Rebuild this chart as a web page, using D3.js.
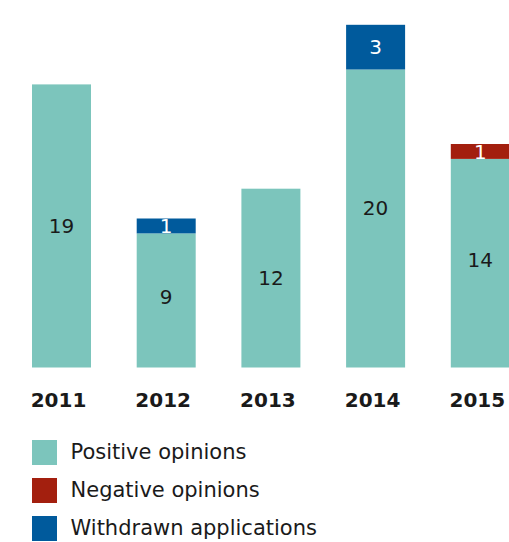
<!DOCTYPE html>
<html>
<head>
<meta charset="utf-8">
<script src="https://cdn.jsdelivr.net/npm/d3@7"></script>
<style>
  html, body { margin: 0; padding: 0; background: #fff; }
  svg { display: block; }
  text { font-family: "DejaVu Sans", Verdana, sans-serif; }
</style>
</head>
<body>
<svg id="chart" width="509" height="542"></svg>
<script>
const years = ["2011", "2012", "2013", "2014", "2015"];
const positive = [19, 9, 12, 20, 14];
const negative = [0, 0, 0, 0, 1];
const withdrawn = [0, 1, 0, 3, 0];
const seriesNames = ["Positive opinions", "Negative opinions", "Withdrawn applications"];
const seriesColors = ["#7cc5bc", "#a31f0e", "#005a9c"];
const labelColors = ["#1a1a1a", "#ffffff", "#ffffff"];

const svg = d3.select("#chart");

const rows = years.map((y, i) => ({ year: y, s0: positive[i], s1: negative[i], s2: withdrawn[i] }));
const stack = d3.stack().keys(["s0", "s1", "s2"])(rows);
const total = d => d.data.s0 + d.data.s1 + d.data.s2;

const x = d3.scaleBand().domain(years).range([32, 509.8]).paddingInner(0.4365).paddingOuter(0);
const y = d3.scaleLinear().domain([0, 23]).range([367.5, 24.8]);

// label position: segment middle; the base segment label sits between its own middle and the bar middle
const labelVal = (d, li) => {
  const mid = (d[0] + d[1]) / 2;
  return li === 0 ? (mid + total(d) / 2) / 2 : mid;
};

const g = svg.append("g");
stack.forEach((layer, li) => {
  const data = layer.filter(d => d[1] - d[0] > 0);
  const lg = g.append("g");
  lg.selectAll("rect").data(data).enter().append("rect")
    .attr("x", d => x(d.data.year))
    .attr("y", d => y(d[1]))
    .attr("width", x.bandwidth())
    .attr("height", d => y(d[0]) - y(d[1]))
    .attr("fill", seriesColors[li]);
  lg.selectAll("text").data(data).enter().append("text")
    .attr("x", d => x(d.data.year) + x.bandwidth() / 2)
    .attr("y", d => y(labelVal(d, li)))
    .attr("dy", "0.36em")
    .attr("text-anchor", "middle")
    .attr("font-size", 20)
    .attr("fill", labelColors[li])
    .text(d => d[1] - d[0]);
});

// x axis labels
const xAxis = d3.axisBottom(x).tickSize(0).tickPadding(0);
const ax = svg.append("g").attr("transform", "translate(-3,0)").call(xAxis);
ax.select(".domain").remove();
ax.selectAll("text")
  .attr("y", 406.7)
  .attr("dy", 0)
  .attr("font-size", 20)
  .attr("font-weight", "bold")
  .attr("font-family", "'DejaVu Sans', Verdana, sans-serif")
  .attr("fill", "#1a1a1a");

// legend
const ly = d3.scalePoint().domain(seriesNames).range([440, 516]);
const leg = svg.append("g");
seriesNames.forEach((name, i) => {
  leg.append("rect").attr("x", 32).attr("y", ly(name)).attr("width", 25).attr("height", 25).attr("fill", seriesColors[i]);
  leg.append("text").attr("x", 70.5).attr("y", ly(name) + 18.5).attr("font-size", 21).attr("fill", "#1a1a1a").text(name);
});
</script>
</body>
</html>
